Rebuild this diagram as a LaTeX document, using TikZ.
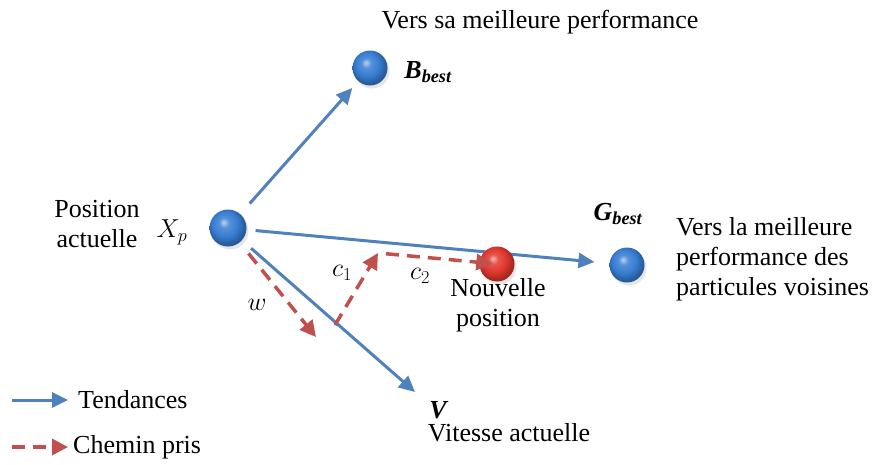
\documentclass[tikz,border=0pt]{standalone}
\usepackage{fix-cm}
\usepackage{fontspec}
\setmainfont{LiberationSerif-Regular.ttf}[BoldFont=LiberationSerif-Bold.ttf,
  ItalicFont=LiberationSerif-Italic.ttf,BoldItalicFont=LiberationSerif-BoldItalic.ttf]
\usetikzlibrary{arrows.meta,shadows}

\definecolor{trendblue}{RGB}{79,129,189}
\definecolor{pathred}{RGB}{192,80,77}
\definecolor{ballblue}{RGB}{55,125,210}
\definecolor{ballred}{RGB}{225,55,45}

\pgfdeclareradialshading{bluesphere}{\pgfpoint{-6bp}{8bp}}{color(0bp)=(ballblue!35!white);
  color(7bp)=(ballblue!85!white); color(17bp)=(ballblue); color(25bp)=(ballblue!75!black);
  color(50bp)=(ballblue!50!black)}
\pgfdeclareradialshading{redsphere}{\pgfpoint{-6bp}{8bp}}{color(0bp)=(ballred!35!white);
  color(7bp)=(ballred!85!white); color(17bp)=(ballred); color(25bp)=(ballred!75!black);
  color(50bp)=(ballred!50!black)}

\tikzset{
  ball/.style={circle,minimum size=#1,inner sep=0pt,
    drop shadow={opacity=0.2,shadow xshift=2pt,shadow yshift=-3pt}},
  ball/.default=35pt,
  trend/.style={draw=trendblue,line width=3pt,-{Triangle[length=16pt,width=15pt]}},
  pathtaken/.style={draw=pathred,line width=3.5pt,dash pattern=on 13pt off 8pt,
    -{Triangle[length=16pt,width=16pt]}},
  lbl/.style={inner sep=0pt}
}

\begin{document}
\begin{tikzpicture}[x=1pt,y=-1pt,font=\fontsize{26}{30}\selectfont]
\useasboundingbox (0,0) rectangle (873,464);

% particles
\node[ball=37pt,shading=bluesphere] (xp) at (228,228) {};
\node[ball,shading=bluesphere] (bbest) at (370,68) {};
\node[ball,shading=bluesphere] (gbest) at (627,265) {};
\coordinate (v) at (415,392);

% tendencies
\draw[trend,shorten <=14pt,shorten >=9pt] (xp) -- (bbest);
\draw[trend,shorten <=9pt,shorten >=15pt] (xp) -- (gbest);
\draw[trend,shorten <=12pt] (xp) -- (v);

\node[ball,shading=redsphere] (newpos) at (497,264) {};

% path taken
\coordinate (wend) at (316,337);
\coordinate (c1start) at (335,325);
\coordinate (c1end) at (378,253);
\draw[pathtaken,shorten <=14pt] (xp) -- (wend);
\draw[pathtaken] (c1start) -- (c1end);
\draw[pathtaken,shorten <=8pt,shorten >=-13pt] (c1end) -- (newpos);

% labels
\node[lbl,align=center] (poslabel) at (97,224) {Position\\actuelle};
\node[lbl] (xplabel) at (172,232) {$X_p$};
\node[lbl] (bbestlabel) at (428,72) {\bfseries\itshape B\textsubscript{best}};
\node[lbl] (toplabel) at (540,22) {Vers sa meilleure performance};
\node[lbl] (gbestlabel) at (618,214) {\bfseries\itshape G\textsubscript{best}};
\node[lbl,align=left,anchor=west] (gbesttext) at (676,259) {Vers la meilleure\\performance des\\particules voisines};
\node[lbl,align=center] (newposlabel) at (498,305) {Nouvelle\\position};
\node[lbl] (vlabel) at (438,410) {\bfseries\itshape V};
\node[lbl] (vtext) at (509,433) {Vitesse actuelle};
\node[lbl] (wlabel) at (257,305) {$w$};
\node[lbl] (c1label) at (342,273) {$c_1$};
\node[lbl] (c2label) at (420,276) {$c_2$};

% legend
\coordinate (trendstart) at (12,400);
\node[lbl,anchor=west] (trendtext) at (78,400) {Tendances};
\draw[trend,shorten >=10pt] (trendstart) -- (trendtext.west);
\coordinate (pathstart) at (12,447);
\node[lbl,anchor=west] (pathtext) at (73,447) {Chemin pris};
\draw[pathtaken,shorten >=5pt] (pathstart) -- (pathtext.west);
\end{tikzpicture}
\end{document}
